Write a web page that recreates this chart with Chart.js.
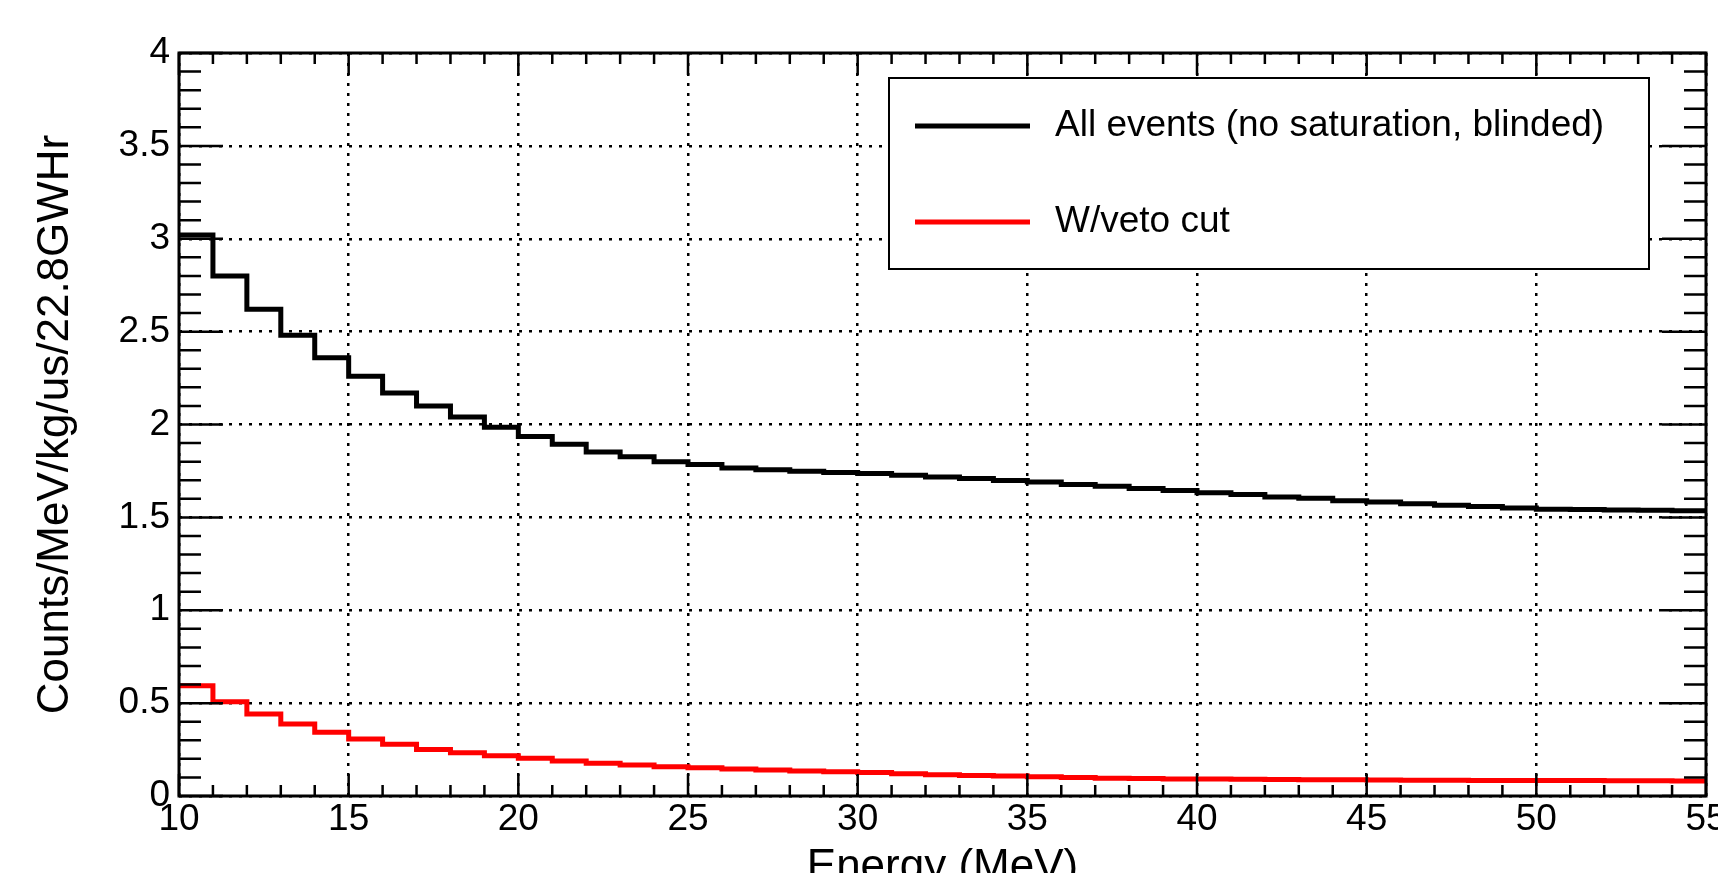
<!DOCTYPE html>
<html>
<head>
<meta charset="utf-8">
<script src="https://cdn.jsdelivr.net/npm/chart.js@4.4.0/dist/chart.umd.min.js"></script>
<style>
    html, body { margin: 0; padding: 0; background: #fff; overflow: hidden; }
    #wrap { position: relative; width: 1718px; height: 900px; }
</style>
</head>
<body>
<div id="wrap"><canvas id="chartEnergy"></canvas></div>
<script>
    // low edge of each 1 MeV bin
    var energyLow = [10, 11, 12, 13, 14, 15, 16, 17, 18, 19,
                     20, 21, 22, 23, 24, 25, 26, 27, 28, 29,
                     30, 31, 32, 33, 34, 35, 36, 37, 38, 39,
                     40, 41, 42, 43, 44, 45, 46, 47, 48, 49,
                     50, 51, 52, 53, 54];
    var binWidth = 1;

    var allEvents = [3.020, 2.800, 2.620, 2.480, 2.360, 2.260, 2.170, 2.100, 2.040, 1.985,
                     1.935, 1.894, 1.852, 1.826, 1.799, 1.784, 1.766, 1.757, 1.748, 1.741,
                     1.736, 1.727, 1.718, 1.709, 1.698, 1.691, 1.677, 1.668, 1.655, 1.645,
                     1.633, 1.623, 1.610, 1.603, 1.590, 1.583, 1.574, 1.565, 1.558, 1.551,
                     1.544, 1.542, 1.540, 1.538, 1.536];

    var vetoCut = [0.594, 0.508, 0.442, 0.388, 0.343, 0.307, 0.278, 0.251, 0.233, 0.217,
                   0.203, 0.188, 0.176, 0.167, 0.158, 0.152, 0.145, 0.140, 0.135, 0.131,
                   0.126, 0.120, 0.115, 0.111, 0.108, 0.104, 0.099, 0.096, 0.094, 0.092,
                   0.091, 0.090, 0.089, 0.088, 0.087, 0.086, 0.085, 0.085, 0.084, 0.084,
                   0.083, 0.083, 0.082, 0.082, 0.081];

    var seriesNames = ['All events (no saturation, blinded)', 'W/veto cut'];
    var seriesColors = ['#000000', '#ff0000'];

    var xMin = 10, xMax = 55, xStep = 5, xMinorStep = 1;
    var yMin = 0, yMax = 4, yStep = 0.5, yMinorStep = 0.1;

    Chart.defaults.font.family = "'Liberation Sans', Arial, Helvetica, sans-serif";
    Chart.defaults.color = '#000';

    function toSteps(values) {
        let pts = [];
        for (let i = 0; i < energyLow.length; i++) {
            pts.push({ x: energyLow[i], y: values[i] });
        }
        // close the last bin at its upper edge
        pts.push({ x: energyLow[energyLow.length - 1] + binWidth, y: values[values.length - 1] });
        return pts;
    }

    // inner ticks on all four sides + frame, like ROOT
    const rootFrame = {
        id: 'rootFrame',
        afterDraw: function (chart) {
            const ctx = chart.ctx;
            const a = chart.chartArea;
            const xs = chart.scales.x, ys = chart.scales.y;
            ctx.save();
            ctx.strokeStyle = '#000';
            ctx.lineWidth = 2.5;
            ctx.beginPath();
            let nx = Math.round((xMax - xMin) / xMinorStep);
            for (let k = 0; k <= nx; k++) {
                let v = xMin + k * xMinorStep;
                let px = xs.getPixelForValue(v);
                let len = (k % Math.round(xStep / xMinorStep) === 0) ? 22 : 11;
                ctx.moveTo(px, a.bottom); ctx.lineTo(px, a.bottom - len);
                ctx.moveTo(px, a.top); ctx.lineTo(px, a.top + len);
            }
            let ny = Math.round((yMax - yMin) / yMinorStep);
            for (let k = 0; k <= ny; k++) {
                let v = yMin + k * yMinorStep;
                let py = ys.getPixelForValue(v);
                let len = (k % Math.round(yStep / yMinorStep) === 0) ? 44 : 22;
                ctx.moveTo(a.left, py); ctx.lineTo(a.left + len, py);
                ctx.moveTo(a.right, py); ctx.lineTo(a.right - len, py);
            }
            ctx.stroke();
            ctx.lineWidth = 3;
            ctx.strokeRect(a.left, a.top, a.right - a.left, a.bottom - a.top);
            ctx.restore();
        }
    };

    // boxed legend inside the frame
    const boxLegend = {
        id: 'boxLegend',
        afterDraw: function (chart) {
            const ctx = chart.ctx;
            const box = { left: 889, top: 78, right: 1649, bottom: 269 };
            const rows = [126, 222];
            ctx.save();
            ctx.fillStyle = '#fff';
            ctx.fillRect(box.left, box.top, box.right - box.left, box.bottom - box.top);
            ctx.strokeStyle = '#000';
            ctx.lineWidth = 2;
            ctx.strokeRect(box.left, box.top, box.right - box.left, box.bottom - box.top);
            chart.data.datasets.forEach(function (ds, i) {
                ctx.strokeStyle = ds.borderColor;
                ctx.lineWidth = 5;
                ctx.beginPath();
                ctx.moveTo(915, rows[i]);
                ctx.lineTo(1030, rows[i]);
                ctx.stroke();
                ctx.fillStyle = '#000';
                ctx.font = "37px 'Liberation Sans', Arial, sans-serif";
                ctx.textBaseline = 'middle';
                ctx.textAlign = 'left';
                ctx.fillText(ds.label, 1055, rows[i]);
            });
            ctx.restore();
        }
    };

    let ctxE = document.getElementById('chartEnergy').getContext('2d');

    let objDatasets = [];
    let seriesValues = [allEvents, vetoCut];
    for (let i = 0; i < seriesValues.length; i++) {
        objDatasets.push({
            label: seriesNames[i],
            data: toSteps(seriesValues[i]),
            borderColor: seriesColors[i],
            backgroundColor: seriesColors[i],
            borderWidth: 5,
            stepped: 'before',
            pointRadius: 0,
            fill: false
        });
    }

    let energyChart = new Chart(ctxE, {
        type: 'line',
        data: { datasets: objDatasets },
        plugins: [rootFrame, boxLegend],
        options: {
            responsive: true,
            maintainAspectRatio: false,
            animation: false,
            layout: { padding: { left: 0, right: 12, top: 53, bottom: 0 } },
            plugins: {
                legend: { display: false },
                tooltip: { enabled: false }
            },
            scales: {
                x: {
                    type: 'linear',
                    min: xMin,
                    max: xMax,
                    ticks: { stepSize: xStep, font: { size: 37 }, padding: 2, color: '#000' },
                    grid: { color: '#000', lineWidth: 2.5, drawTicks: false },
                    border: { display: false, dash: [3, 7] },
                    title: {
                        display: true,
                        text: 'Energy (MeV)',
                        font: { size: 44 },
                        color: '#000',
                        padding: { top: 0, bottom: 6 }
                    },
                    afterFit: function (s) {
                        s.height = 104;
                        s.paddingLeft = 0;
                        s.paddingRight = 0;
                    }
                },
                y: {
                    min: yMin,
                    max: yMax,
                    ticks: {
                        stepSize: yStep,
                        font: { size: 37 },
                        padding: 9,
                        color: '#000',
                        callback: function (v) { return String(v); }
                    },
                    grid: { color: '#000', lineWidth: 2.5, drawTicks: false },
                    border: { display: false, dash: [3, 7] },
                    title: {
                        display: true,
                        text: 'Counts/MeV/kg/us/22.8GWHr',
                        font: { size: 44 },
                        color: '#000',
                        padding: { top: 29, bottom: 0 }
                    },
                    afterFit: function (s) {
                        s.width = 179;
                        s.paddingTop = 0;
                        s.paddingBottom = 0;
                    }
                }
            }
        }
    });
</script>
</body>
</html>
